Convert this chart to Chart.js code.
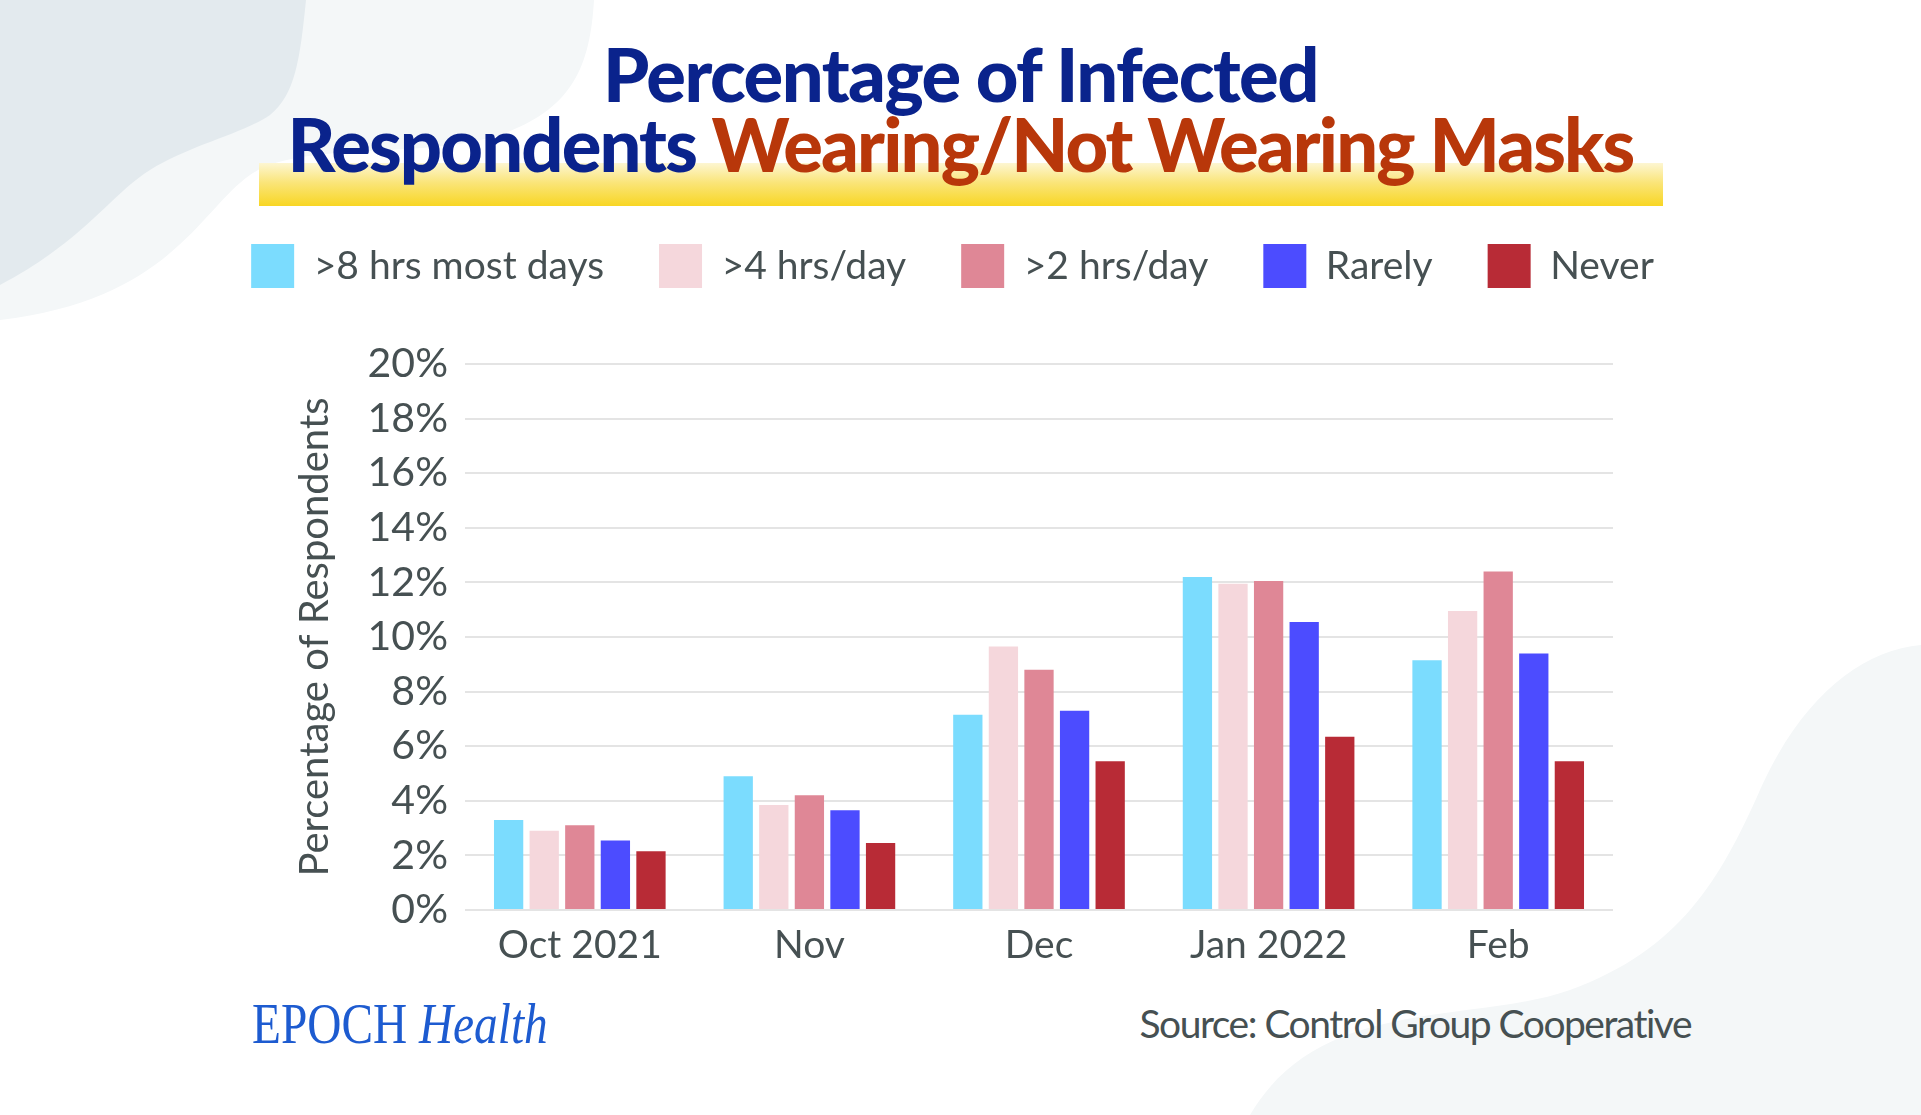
<!DOCTYPE html>
<html>
<head>
<meta charset="utf-8">
<title>Percentage of Infected Respondents Wearing/Not Wearing Masks</title>
<script src="https://cdn.jsdelivr.net/npm/chart.js@4.4.1/dist/chart.umd.min.js"></script>
<style>
html, body { margin: 0; padding: 0; background: #fff; }
#page { position: relative; width: 1921px; height: 1115px; overflow: hidden; background: #fff; font-family: Lato, sans-serif; }
#bg { position: absolute; left: 0; top: 0; }
.bar { position: absolute; left: 259px; top: 163px; width: 1404px; height: 43px;
       background: linear-gradient(to bottom, #fdf6d2 0%, #fae57a 45%, #f8d624 100%); }
.title { position: absolute; left: 0; width: 1921px; text-align: center; font-weight: 900; font-size: 74px;
         letter-spacing: -1.5px; white-space: nowrap; line-height: 1; color: #0a238c; }
#t1 { top: 37px; }
#t2 { top: 107px; letter-spacing: -1.85px; }
#t2 span { color: #b8370a; }
#wrap { position: absolute; left: 0; top: 189px; width: 1921px; height: 801px; }
#logo { position: absolute; left: 252px; top: 995px; font-family: "Liberation Serif", serif; font-size: 57px; line-height: 1;
        color: #1d5bd0; white-space: nowrap; transform: scaleX(0.83); transform-origin: left top; }
#logo i { font-style: italic; }
#source { position: absolute; right: 230px; top: 1004px; font-size: 39px; line-height: 1; color: #465052;
          letter-spacing: -1.5px; white-space: nowrap; }
</style>
</head>
<body>
<div id="page">
  <svg id="bg" width="1921" height="1115">
    <path d="M0 0 H594 C590 70 570 110 500 135 C420 160 300 140 250 175 C200 210 170 300 0 320 Z" fill="#f4f7f8"/>
    <path d="M0 0 H306 C300 60 295 95 270 115 C240 135 190 145 150 170 C110 195 85 240 0 285 Z" fill="#e3eaee"/>
    <path d="M1921 645 C1860 650 1800 700 1760 790 C1720 880 1680 950 1570 990 C1470 1025 1320 995 1250 1115 L1921 1115 Z" fill="#f4f7f8"/>
  </svg>
  <div class="bar"></div>
  <div class="title" id="t1">Percentage of Infected</div>
  <div class="title" id="t2">Respondents <span>Wearing/Not Wearing Masks</span></div>
  <div id="wrap"><canvas id="chart"></canvas></div>
  <div id="logo">EPOCH <i>Health</i></div>
  <div id="source">Source: Control Group Cooperative</div>
</div>
<script>
var months = ["Oct 2021", "Nov", "Dec", "Jan 2022", "Feb"];
var seriesNames = [">8 hrs most days", ">4 hrs/day", ">2 hrs/day", "Rarely", "Never"];

// percent of respondents
var over8hrs = [3.3, 4.9, 7.15, 12.2, 9.15];
var over4hrs = [2.9, 3.85, 9.65, 11.95, 10.95];
var over2hrs = [3.1, 4.2, 8.8, 12.05, 12.4];
var rarely   = [2.55, 3.65, 7.3, 10.55, 9.4];
var never    = [2.15, 2.45, 5.45, 6.35, 5.45];

var barColors = ["#7bdcfe", "#f5d7dc", "#df8796", "#4c4cff", "#b82b36"];
var textColor = "#465052";

function init() {
    var values = [over8hrs, over4hrs, over2hrs, rarely, never];
    var datasets = [];
    for (var i = 0; i < seriesNames.length; i++) {
        datasets.push({
            label: seriesNames[i],
            data: values[i],
            backgroundColor: barColors[i],
            borderWidth: 0,
            categoryPercentage: 0.775,
            barPercentage: 0.823
        });
    }

    // push the plot down below the legend
    var legendMargin = {
        id: "legendMargin",
        beforeInit: function (chart) {
            var fit = chart.legend.fit;
            chart.legend.fit = function () {
                fit.bind(chart.legend)();
                this.height += 66;
            };
        }
    };

    new Chart(document.getElementById("chart"), {
        type: "bar",
        data: { labels: months, datasets: datasets },
        options: {
            responsive: true,
            maintainAspectRatio: false,
            animation: false,
            layout: { padding: { left: 0, right: 16, top: 0, bottom: 0 } },
            plugins: {
                legend: {
                    position: "top",
                    align: "center",
                    labels: {
                        boxWidth: 43,
                        boxHeight: 44,
                        padding: 55,
                        color: textColor,
                        font: { family: "Lato", size: 39 }
                    }
                },
                tooltip: { enabled: false }
            },
            scales: {
                x: {
                    grid: { display: false },
                    border: { display: false },
                    ticks: { color: textColor, font: { family: "Lato", size: 39 }, padding: 4 },
                    afterFit: function (s) { s.height = 80; }
                },
                y: {
                    min: 0,
                    max: 20,
                    ticks: {
                        stepSize: 2,
                        color: textColor,
                        font: { family: "Lato", size: 41 },
                        padding: 17,
                        callback: function (v) { return v + "%"; }
                    },
                    grid: { color: "#e4e4e4", lineWidth: 2, drawTicks: false },
                    border: { display: false },
                    title: {
                        display: true,
                        text: "Percentage of Respondents",
                        color: textColor,
                        font: { family: "Lato", size: 40 },
                        padding: { top: 291, bottom: 0 }
                    },
                    afterFit: function (s) { s.width = 465; }
                },
                yRight: {
                    position: "right",
                    grid: { display: false },
                    border: { display: false },
                    ticks: { display: false },
                    afterFit: function (s) { s.width = 292; }
                }
            }
        },
        plugins: [legendMargin]
    });
}
window.onload = init;
</script>
</body>
</html>
